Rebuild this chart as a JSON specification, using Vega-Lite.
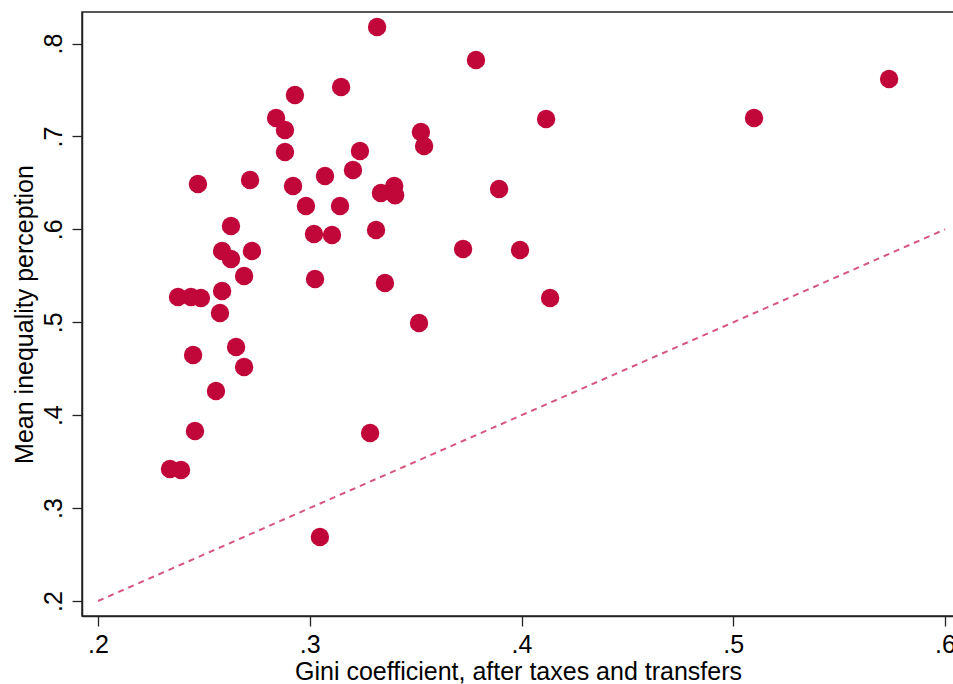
{
  "$schema": "https://vega.github.io/schema/vega-lite/v6.json",
  "autosize": {"type": "none"},
  "padding": {"left": 82, "top": 12, "right": 0, "bottom": 68},
  "width": 872,
  "height": 604,
  "background": "white",
  "config": {
    "view": {"stroke": "#222", "strokeWidth": 1.5},
    "font": "Liberation Sans",
    "axis": {
      "grid": false,
      "domainColor": "#222",
      "domainWidth": 1.5,
      "tickColor": "#222",
      "tickWidth": 1.3,
      "tickSize": 10,
      "labelFont": "Liberation Sans",
      "titleFont": "Liberation Sans",
      "labelFontSize": 25,
      "titleFontSize": 25,
      "labelColor": "#000",
      "titleColor": "#000",
      "titleFontWeight": "normal"
    }
  },
  "layer": [
    {
      "data": {"values": [{"gini": 0.2, "perc": 0.2}, {"gini": 0.6, "perc": 0.6}]},
      "mark": {"type": "line", "color": "#d6577d", "strokeWidth": 2, "strokeDash": [6, 5]},
      "encoding": {
        "x": {"field": "gini", "type": "quantitative"},
        "y": {"field": "perc", "type": "quantitative"}
      }
    },
    {
      "data": {"values": [
        {"gini": 0.3318, "perc": 0.8179},
        {"gini": 0.3785, "perc": 0.7823},
        {"gini": 0.5736, "perc": 0.7619},
        {"gini": 0.3148, "perc": 0.7533},
        {"gini": 0.2930, "perc": 0.7447},
        {"gini": 0.2841, "perc": 0.7199},
        {"gini": 0.2883, "perc": 0.7070},
        {"gini": 0.2883, "perc": 0.6833},
        {"gini": 0.4116, "perc": 0.7188},
        {"gini": 0.5098, "perc": 0.7199},
        {"gini": 0.3525, "perc": 0.7048},
        {"gini": 0.3540, "perc": 0.6898},
        {"gini": 0.3237, "perc": 0.6844},
        {"gini": 0.3204, "perc": 0.6639},
        {"gini": 0.3072, "perc": 0.6575},
        {"gini": 0.2718, "perc": 0.6532},
        {"gini": 0.2472, "perc": 0.6489},
        {"gini": 0.2921, "perc": 0.6467},
        {"gini": 0.3894, "perc": 0.6435},
        {"gini": 0.3399, "perc": 0.6467},
        {"gini": 0.3336, "perc": 0.6392},
        {"gini": 0.3403, "perc": 0.6367},
        {"gini": 0.2982, "perc": 0.6252},
        {"gini": 0.3143, "perc": 0.6252},
        {"gini": 0.2628, "perc": 0.6037},
        {"gini": 0.3020, "perc": 0.5951},
        {"gini": 0.3105, "perc": 0.5940},
        {"gini": 0.3313, "perc": 0.5994},
        {"gini": 0.2586, "perc": 0.5767},
        {"gini": 0.2727, "perc": 0.5767},
        {"gini": 0.2628, "perc": 0.5681},
        {"gini": 0.3724, "perc": 0.5789},
        {"gini": 0.3993, "perc": 0.5778},
        {"gini": 0.2690, "perc": 0.5498},
        {"gini": 0.3025, "perc": 0.5466},
        {"gini": 0.3355, "perc": 0.5423},
        {"gini": 0.2586, "perc": 0.5337},
        {"gini": 0.2378, "perc": 0.5272},
        {"gini": 0.2439, "perc": 0.5272},
        {"gini": 0.2486, "perc": 0.5262},
        {"gini": 0.4135, "perc": 0.5262},
        {"gini": 0.2576, "perc": 0.5100},
        {"gini": 0.3516, "perc": 0.4992},
        {"gini": 0.2652, "perc": 0.4734},
        {"gini": 0.2449, "perc": 0.4648},
        {"gini": 0.2690, "perc": 0.4519},
        {"gini": 0.2557, "perc": 0.4260},
        {"gini": 0.2458, "perc": 0.3830},
        {"gini": 0.3285, "perc": 0.3808},
        {"gini": 0.2340, "perc": 0.3421},
        {"gini": 0.2392, "perc": 0.3410},
        {"gini": 0.3048, "perc": 0.2689}
      ]},
      "mark": {"type": "circle", "color": "#c1063a", "opacity": 1, "size": 340},
      "encoding": {
        "x": {
          "field": "gini", "type": "quantitative",
          "scale": {"domain": [0.19244, 0.60424], "nice": false, "zero": false},
          "axis": {
            "title": "Gini coefficient, after taxes and transfers",
            "values": [0.2, 0.3, 0.4, 0.5, 0.6],
            "labelExpr": "substring(format(datum.value, '.1f'), 1)",
            "labelPadding": 6,
            "titlePadding": 2
          }
        },
        "y": {
          "field": "perc", "type": "quantitative",
          "scale": {"domain": [0.18385, 0.834], "nice": false, "zero": false},
          "axis": {
            "title": "Mean inequality perception",
            "values": [0.2, 0.3, 0.4, 0.5, 0.6, 0.7, 0.8],
            "labelExpr": "substring(format(datum.value, '.1f'), 1)",
            "labelAngle": -90,
            "labelAlign": "center",
            "labelBaseline": "bottom",
            "labelPadding": 6,
            "titlePadding": 4
          }
        }
      }
    }
  ]
}
